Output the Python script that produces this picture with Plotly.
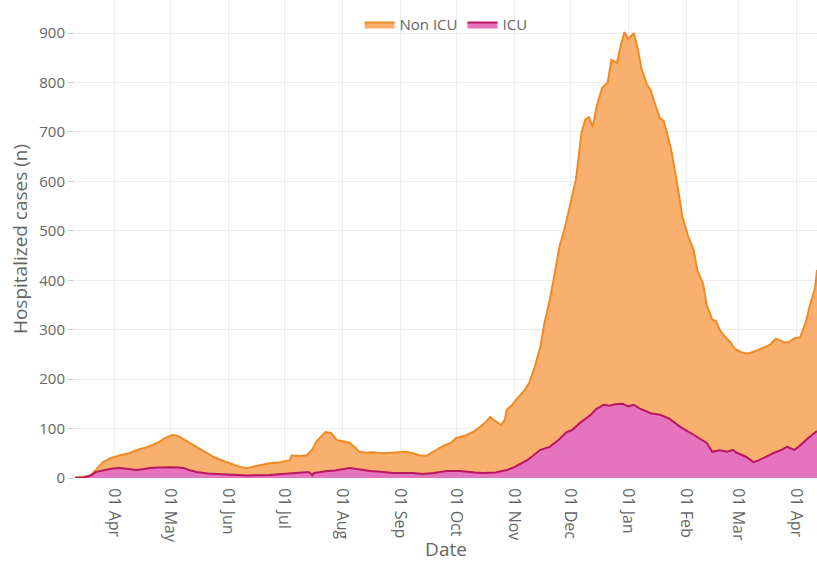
import plotly.graph_objects as go

non_icu_dates = [
    "2020-03-11", "2020-03-16", "2020-03-19", "2020-03-22", "2020-03-26", "2020-03-30",
    "2020-04-04", "2020-04-09", "2020-04-13", "2020-04-19", "2020-04-25", "2020-04-28",
    "2020-05-02", "2020-05-04", "2020-05-06", "2020-05-10", "2020-05-15", "2020-05-19",
    "2020-05-24", "2020-05-29", "2020-06-02", "2020-06-07", "2020-06-11", "2020-06-15",
    "2020-06-18", "2020-06-23", "2020-06-29", "2020-07-04", "2020-07-05", "2020-07-09",
    "2020-07-13", "2020-07-16", "2020-07-18", "2020-07-21", "2020-07-23", "2020-07-26",
    "2020-07-29", "2020-08-02", "2020-08-05", "2020-08-08", "2020-08-10", "2020-08-14",
    "2020-08-17", "2020-08-23", "2020-08-28", "2020-09-01", "2020-09-04", "2020-09-08",
    "2020-09-11", "2020-09-15", "2020-09-21", "2020-09-24", "2020-09-28", "2020-10-01",
    "2020-10-06", "2020-10-10", "2020-10-14", "2020-10-17", "2020-10-19", "2020-10-21",
    "2020-10-25", "2020-10-27", "2020-10-28", "2020-10-31", "2020-11-02", "2020-11-06",
    "2020-11-09", "2020-11-12", "2020-11-15", "2020-11-17", "2020-11-20", "2020-11-23",
    "2020-11-25", "2020-11-28", "2020-12-01", "2020-12-04", "2020-12-07", "2020-12-09",
    "2020-12-11", "2020-12-13", "2020-12-15", "2020-12-18", "2020-12-21", "2020-12-23",
    "2020-12-26", "2020-12-28", "2020-12-30", "2021-01-01", "2021-01-04", "2021-01-06",
    "2021-01-08", "2021-01-11", "2021-01-13", "2021-01-15", "2021-01-18", "2021-01-20",
    "2021-01-22", "2021-01-24", "2021-01-27", "2021-01-30", "2021-02-02", "2021-02-05",
    "2021-02-07", "2021-02-10", "2021-02-12", "2021-02-15", "2021-02-17", "2021-02-19",
    "2021-02-22", "2021-02-25", "2021-02-27", "2021-03-02", "2021-03-05", "2021-03-07",
    "2021-03-11", "2021-03-14", "2021-03-18", "2021-03-21", "2021-03-23", "2021-03-26",
    "2021-03-28", "2021-03-31", "2021-04-03", "2021-04-06", "2021-04-08", "2021-04-11",
    "2021-04-12",
]
non_icu_values = [
    1, 2, 4, 16, 32, 40,
    46, 50, 57, 63, 73, 80,
    87, 86, 83, 74, 63, 53,
    43, 35, 30, 23, 20, 23,
    26, 30, 32, 36, 46, 44,
    46, 58, 73, 86, 93, 91,
    77, 74, 71, 62, 53, 51,
    52, 50, 51, 52, 53, 50,
    46, 45, 59, 65, 71, 81,
    86, 93, 104, 114, 123, 118,
    107, 118, 138, 148, 158, 175,
    192, 225, 265, 310, 360, 420,
    465, 505, 555, 603, 698, 725,
    730, 710, 750, 789, 800, 846,
    840, 875, 902, 888, 900, 870,
    830, 796, 785, 760, 728, 722,
    695, 663, 600, 528, 490, 461,
    420, 394, 350, 320, 318, 299,
    285, 273, 262, 255, 252, 253,
    258, 263, 270, 282, 279, 274,
    275, 283, 285, 315, 346, 385,
    421,
]

icu_dates = [
    "2020-03-11", "2020-03-16", "2020-03-20", "2020-03-22", "2020-03-27", "2020-03-31",
    "2020-04-04", "2020-04-09", "2020-04-13", "2020-04-17", "2020-04-20", "2020-04-25",
    "2020-05-01", "2020-05-05", "2020-05-08", "2020-05-12", "2020-05-15", "2020-05-21",
    "2020-05-29", "2020-06-04", "2020-06-11", "2020-06-23", "2020-07-05", "2020-07-12",
    "2020-07-14", "2020-07-16", "2020-07-17", "2020-07-24", "2020-07-28", "2020-08-05",
    "2020-08-10", "2020-08-16", "2020-08-23", "2020-08-28", "2020-09-08", "2020-09-13",
    "2020-09-19", "2020-09-26", "2020-10-03", "2020-10-07", "2020-10-11", "2020-10-15",
    "2020-10-22", "2020-10-28", "2020-11-01", "2020-11-08", "2020-11-15", "2020-11-20",
    "2020-11-25", "2020-11-29", "2020-12-02", "2020-12-06", "2020-12-12", "2020-12-15",
    "2020-12-19", "2020-12-22", "2020-12-25", "2020-12-29", "2021-01-01", "2021-01-04",
    "2021-01-07", "2021-01-13", "2021-01-18", "2021-01-23", "2021-01-29", "2021-02-03",
    "2021-02-08", "2021-02-12", "2021-02-15", "2021-02-19", "2021-02-23", "2021-02-26",
    "2021-02-28", "2021-03-05", "2021-03-09", "2021-03-12", "2021-03-20", "2021-03-23",
    "2021-03-27", "2021-03-31", "2021-04-03", "2021-04-07", "2021-04-12",
]
icu_values = [
    0, 1, 6, 12, 16, 19,
    20, 18, 16, 18, 20, 21,
    22, 21, 20, 15, 12, 9,
    8, 6, 5, 6, 10, 11,
    12, 6, 10, 14, 15, 20,
    17, 14, 12, 10, 10, 8,
    10, 14, 14, 12, 11, 10,
    11, 16, 22, 36, 57, 63,
    78, 93, 97, 111, 128, 140,
    148, 146, 149, 150, 145, 148,
    141, 131, 128, 120, 103, 92,
    80, 71, 53, 56, 53, 57,
    51, 43, 32, 36, 51, 55,
    63, 57, 66, 80, 95,
]

x_ticks = ["2020-04-01", "2020-05-01", "2020-06-01", "2020-07-01", "2020-08-01",
           "2020-09-01", "2020-10-01", "2020-11-01", "2020-12-01", "2021-01-01",
           "2021-02-01", "2021-03-01", "2021-04-01"]
y_ticks = [0, 100, 200, 300, 400, 500, 600, 700, 800, 900]

fig = go.Figure()
fig.add_trace(go.Scatter(
    x=non_icu_dates, y=non_icu_values, name="Non ICU", mode="lines",
    fill="tozeroy", fillcolor="#f9b06e",
    line=dict(color="#f08a24", width=2),
))
fig.add_trace(go.Scatter(
    x=icu_dates, y=icu_values, name="ICU", mode="lines",
    fill="tozeroy", fillcolor="#e673be",
    line=dict(color="#b8185f", width=2),
))

fig.update_layout(
    width=817, height=562,
    margin=dict(l=75, r=0, t=0, b=84),
    plot_bgcolor="white", paper_bgcolor="white",
    font=dict(family="Open Sans", size=15, color="#666"),
    showlegend=True,
    legend=dict(orientation="h", x=0.5, xanchor="center", y=0.983, yanchor="top",
                bgcolor="rgba(255,255,255,0)", font=dict(size=15, color="#666")),
    xaxis=dict(
        title=dict(text="Date", font=dict(size=19, color="#666"), standoff=14),
        range=["2020-03-11", "2021-04-12"],
        tickvals=x_ticks, tickformat="%d %b", tickangle=90,
        tickfont=dict(size=16),
        showgrid=True, gridcolor="#eeeeee", zeroline=False,
        ticks="outside", ticklen=6, tickcolor="rgba(0,0,0,0)",
        showline=False, automargin=False,
    ),
    yaxis=dict(
        title=dict(text="Hospitalized cases (n)", font=dict(size=19, color="#666"),
                   standoff=6),
        range=[0, 967], tickvals=y_ticks, tickfont=dict(size=15),
        showgrid=True, gridcolor="#eeeeee", zeroline=False,
        ticks="outside", ticklen=6, tickcolor="#cccccc", automargin=False,
    ),
)

fig.write_html("out.html", config={"displayModeBar": False},
               post_script="document.body.style.margin='0';")
